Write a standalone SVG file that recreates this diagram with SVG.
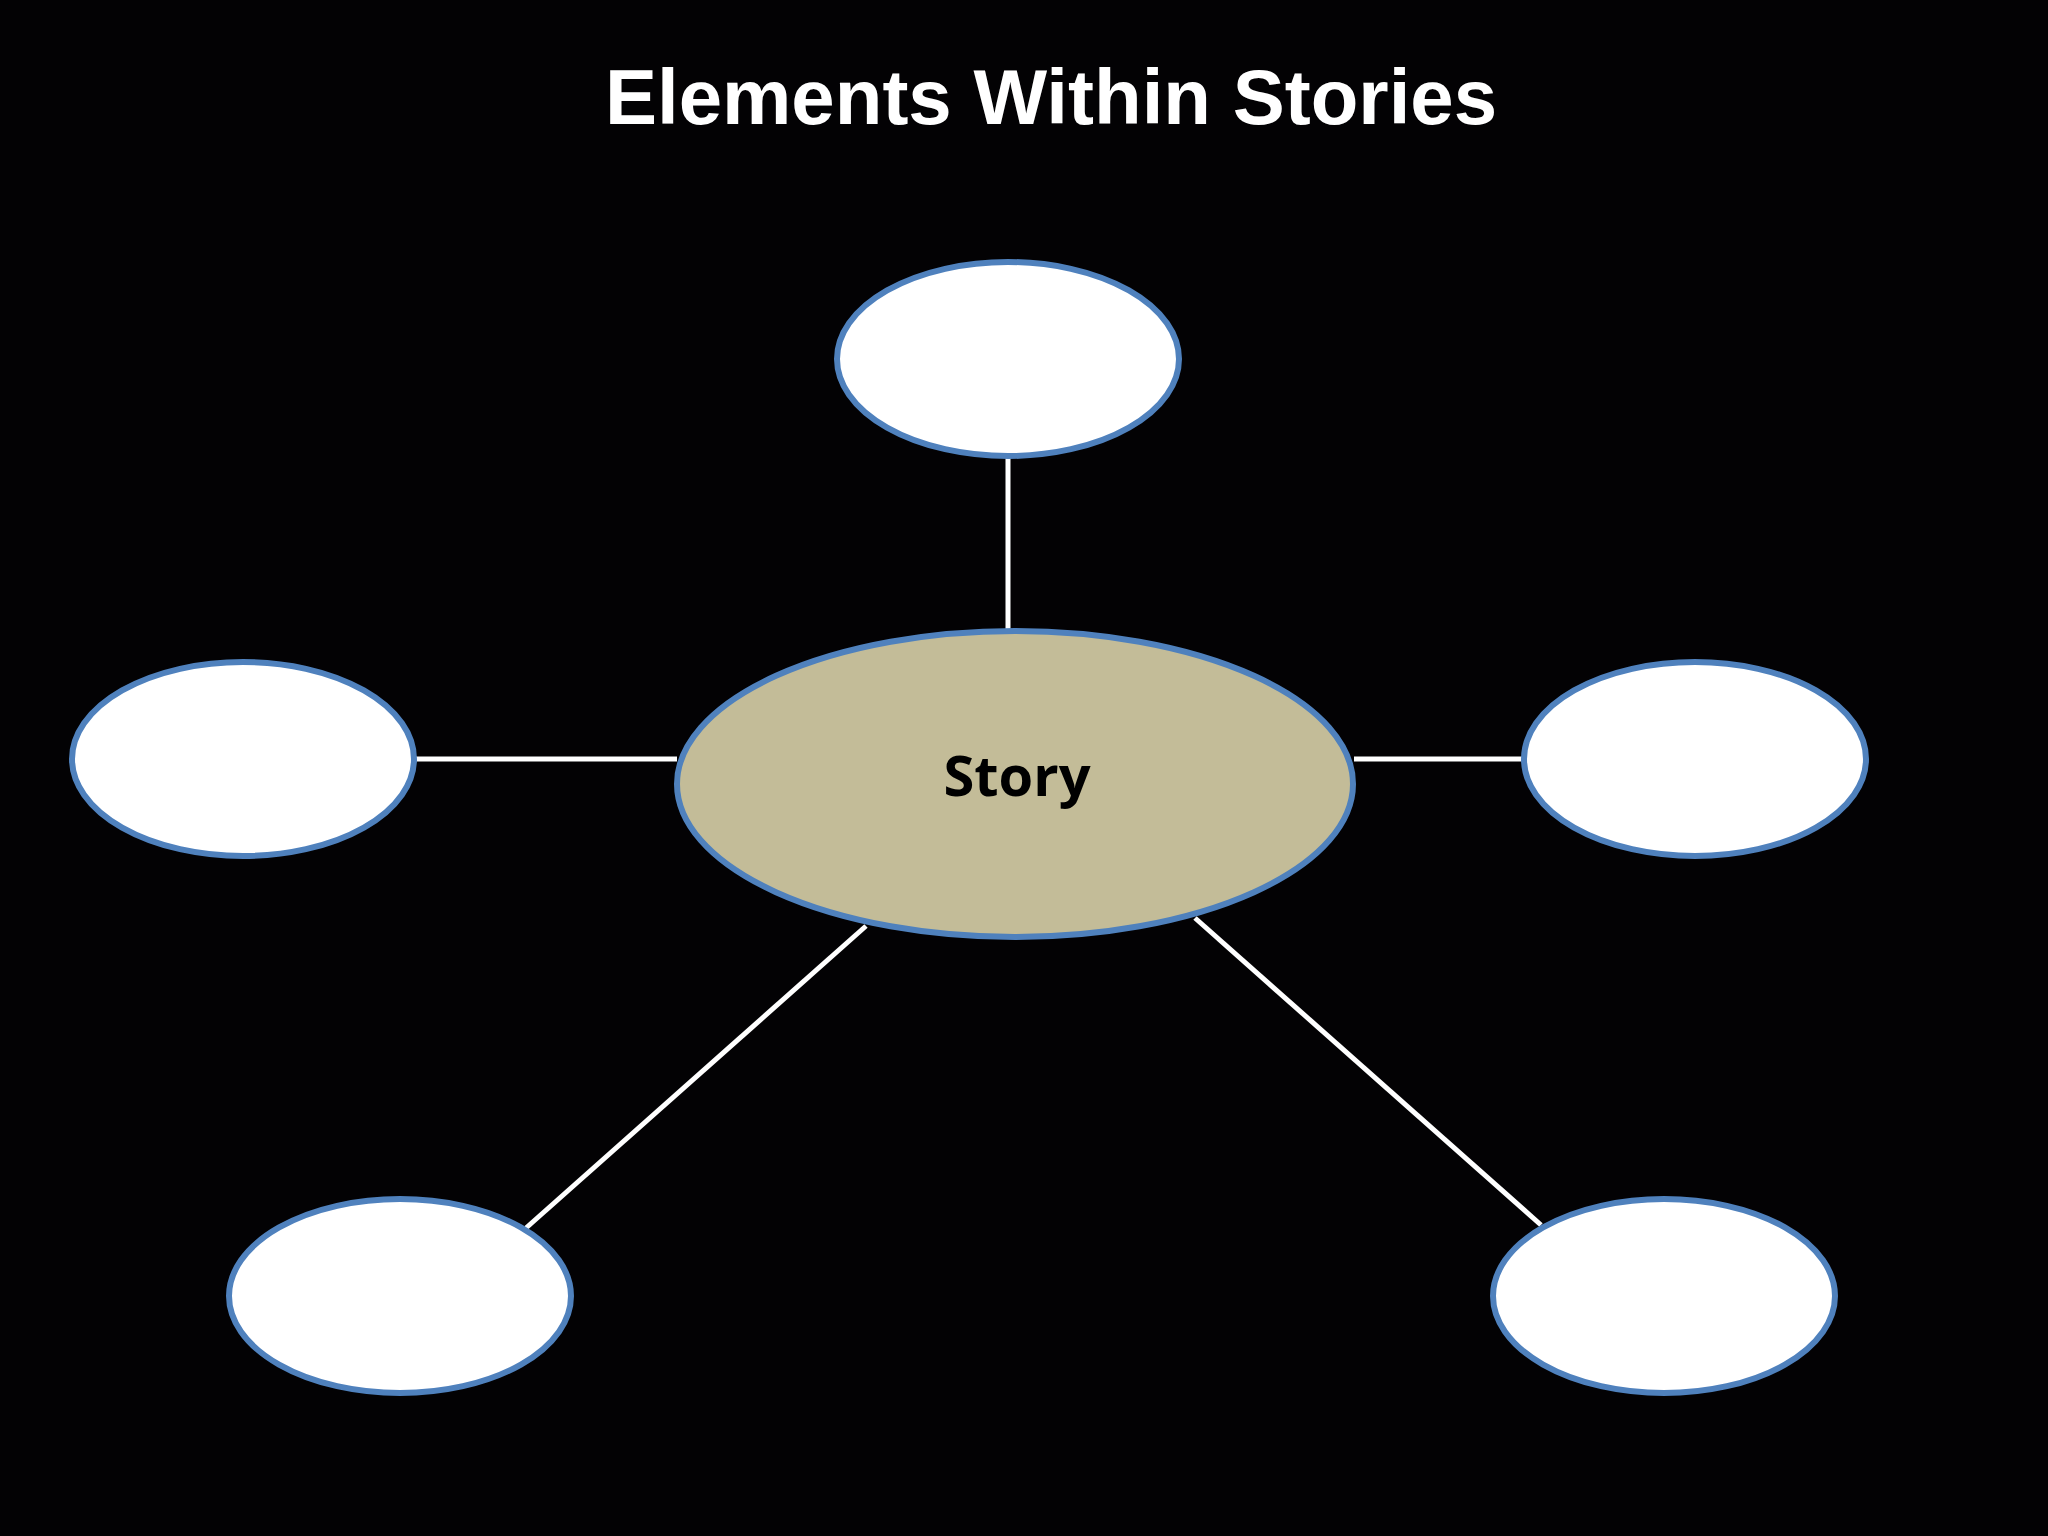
<svg xmlns="http://www.w3.org/2000/svg" width="2048" height="1536" viewBox="0 0 2048 1536">
<style>
.n{fill:#ffffff;stroke:#4f81bd;stroke-width:6}
.c line{stroke:#ffffff;stroke-width:5}
</style>
<rect width="2048" height="1536" fill="#030204"/>
<text x="1051" y="124" font-family="Liberation Sans, Arial, sans-serif" font-weight="bold" font-size="78" fill="#ffffff" text-anchor="middle">Elements Within Stories</text>
<g class="c" id="connectors">
<line x1="1008" y1="457" x2="1008" y2="631"/>
<line x1="415" y1="759" x2="677" y2="759"/>
<line x1="1354" y1="759" x2="1523" y2="759"/>
<line x1="866" y1="926" x2="526" y2="1228"/>
<line x1="1195" y1="918" x2="1541" y2="1225"/>
</g>
<g id="top"><ellipse class="n" cx="1008" cy="359" rx="171" ry="97"/></g>
<g id="left"><ellipse class="n" cx="243" cy="759" rx="171" ry="97"/></g>
<g id="right"><ellipse class="n" cx="1695" cy="759" rx="171" ry="97"/></g>
<g id="bottomleft"><ellipse class="n" cx="400" cy="1296" rx="171" ry="97"/></g>
<g id="bottomright"><ellipse class="n" cx="1664" cy="1296" rx="171" ry="97"/></g>
<g id="story"><ellipse cx="1015" cy="784" rx="338" ry="153" fill="#c3bc98" stroke="#4f81bd" stroke-width="6"/>
<text x="1017" y="796" font-family="Open Sans, DejaVu Sans, sans-serif" font-weight="bold" font-size="56" fill="#000000" text-anchor="middle">Story</text></g>
</svg>
